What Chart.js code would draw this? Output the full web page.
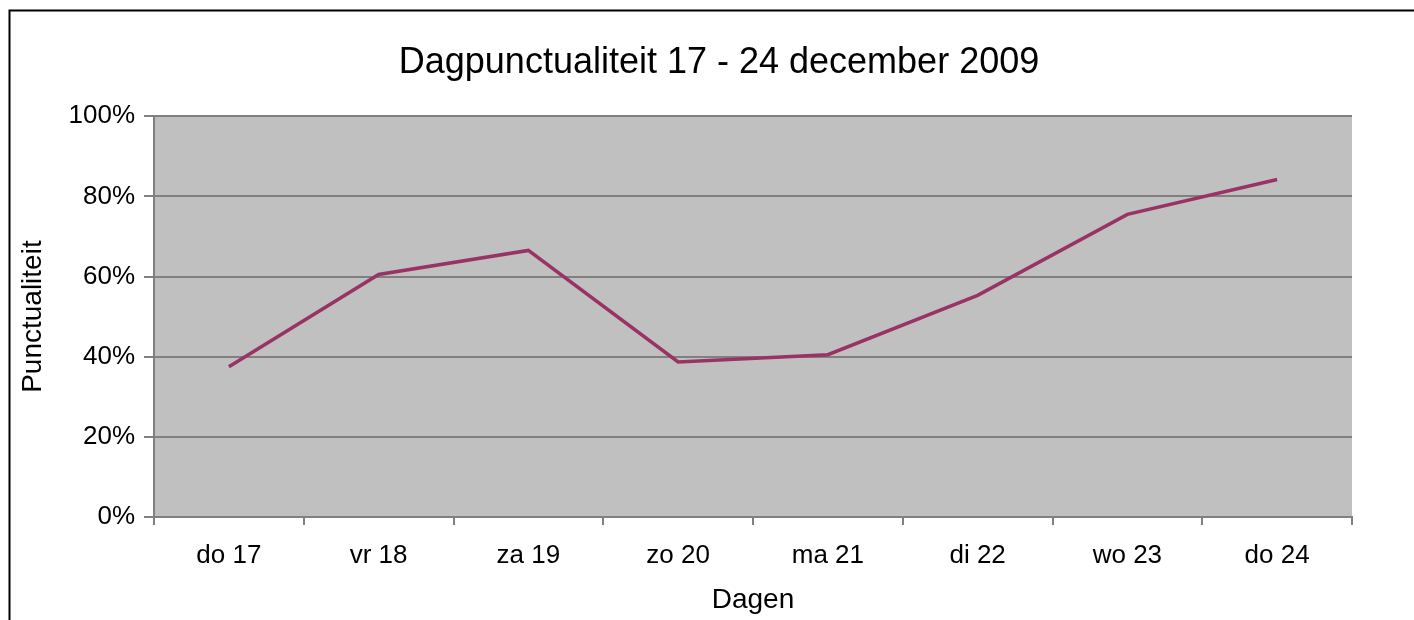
<!DOCTYPE html>
<html>
<head>
<meta charset="utf-8">
<script src="https://cdn.jsdelivr.net/npm/chart.js@4.4.1/dist/chart.umd.min.js"></script>
<style>
  html, body { margin: 0; padding: 0; background: #ffffff; }
  #wrap { position: relative; width: 1414px; height: 620px; }
</style>
</head>
<body>
<div id="wrap"><canvas id="c" width="1414" height="620"></canvas></div>
<script>
const categories = ['do 17', 'vr 18', 'za 19', 'zo 20', 'ma 21', 'di 22', 'wo 23', 'do 24'];
const punctualiteit = [37.5, 60.5, 66.5, 38.7, 40.5, 55.3, 75.5, 84.2];
const yTicks = [0, 20, 40, 60, 80, 100];
const chartTitle = 'Dagpunctualiteit 17 - 24 december 2009';
const xTitle = 'Dagen';
const yTitle = 'Punctualiteit';

const FONT = '"Liberation Sans", Arial, sans-serif';

const framePlugin = {
  id: 'frame',
  beforeDraw(chart) {
    const ctx = chart.ctx;
    ctx.save();
    ctx.fillStyle = '#ffffff';
    ctx.fillRect(0, 0, chart.width, chart.height);
    ctx.strokeStyle = '#000000';
    ctx.lineWidth = 2;
    ctx.beginPath();
    ctx.moveTo(9.5, chart.height);
    ctx.lineTo(9.5, 10.5);
    ctx.lineTo(chart.width, 10.5);
    ctx.stroke();
    const a = chart.chartArea;
    ctx.fillStyle = '#c0c0c0';
    ctx.fillRect(a.left, a.top, a.right - a.left, a.bottom - a.top);
    ctx.restore();
  }
};

new Chart(document.getElementById('c'), {
  type: 'line',
  data: {
    labels: categories,
    datasets: [{
      label: yTitle,
      data: punctualiteit,
      borderColor: '#993366',
      backgroundColor: '#993366',
      borderWidth: 3.5,
      pointRadius: 0,
      tension: 0,
      fill: false
    }]
  },
  options: {
    responsive: false,
    animation: false,
    layout: { padding: { left: 24, right: 0, top: 0, bottom: 0 } },
    plugins: {
      legend: { display: false },
      tooltip: { enabled: false },
      title: {
        display: true,
        text: chartTitle,
        color: '#000000',
        font: { family: FONT, size: 36, weight: 'normal' },
        padding: { top: 41, bottom: 32 }
      }
    },
    scales: {
      x: {
        type: 'category',
        offset: true,
        grid: {
          offset: true,
          drawOnChartArea: false,
          drawTicks: true,
          tickLength: 8,
          color: '#808080',
          lineWidth: 2
        },
        border: { display: true, color: '#808080', width: 2 },
        ticks: {
          color: '#000000',
          font: { family: FONT, size: 26 },
          padding: 15,
          maxRotation: 0,
          autoSkip: false
        },
        title: {
          display: true,
          text: xTitle,
          color: '#000000',
          font: { family: FONT, size: 28 },
          padding: { top: 2, bottom: 3 }
        },
        afterFit(scale) { scale.height = 103; }
      },
      y: {
        min: 0,
        max: 100,
        afterBuildTicks(scale) { scale.ticks = yTicks.map(v => ({ value: v })); },
        grid: {
          color: '#808080',
          lineWidth: 2,
          drawTicks: true,
          tickLength: 10
        },
        border: { display: true, color: '#808080', width: 2 },
        ticks: {
          color: '#000000',
          font: { family: FONT, size: 26 },
          padding: 9,
          callback: v => v + '%'
        },
        title: {
          display: true,
          text: yTitle,
          color: '#000000',
          font: { family: FONT, size: 28 },
          padding: -8
        },
        afterFit(scale) { scale.width = 130; }
      },
      yRight: {
        position: 'right',
        display: true,
        min: 0,
        max: 100,
        grid: { display: false, drawTicks: false },
        border: { display: false },
        ticks: { display: false },
        title: { display: false },
        afterFit(scale) { scale.width = 62; }
      }
    }
  },
  plugins: [framePlugin]
});
</script>
</body>
</html>
